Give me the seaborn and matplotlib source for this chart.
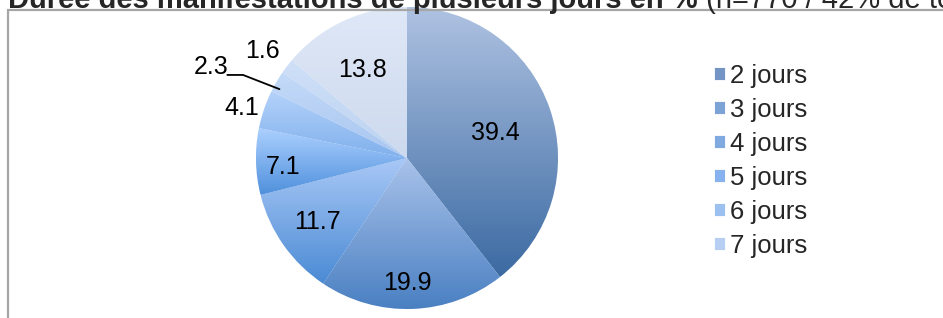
import numpy as np
import matplotlib
matplotlib.use("Agg")
import matplotlib.pyplot as plt
from matplotlib.colors import LinearSegmentedColormap
import seaborn as sns

# data
categories = ["2 jours", "3 jours", "4 jours", "5 jours", "6 jours", "7 jours", "8 jours", "9 jours et +"]
values = [39.4, 19.9, 11.7, 7.1, 4.1, 2.3, 1.6, 13.8]
value_labels = ["39.4", "19.9", "11.7", "7.1", "4.1", "2.3", "1.6", "13.8"]
slice_colors = ["#7394c4", "#7da3d6", "#80a9e0", "#86b3ef", "#9cc0f0", "#b6cff3", "#c4d7f3", "#d4e0f3"]
# light (top) / dark (bottom) ends of the Excel-style gradient fill
grad_top = ["#afc2e2", "#a9c2ea", "#a9c8f6", "#acd0ff", "#b4d2fa", "#c4daf8", "#cfe0f8", "#dfe8f7"]
grad_bottom = ["#3b6aa2", "#4a80c2", "#4a8ad4", "#4f90dc", "#80b0ec", "#a8c6f0", "#bcd2f0", "#cdd9ee"]
legend_count = 6  # only 6 entries fit in the original legend

title_main = "Durée des manifestations de plusieurs jours en %"
title_sub = " (n=770 / 42% de total)"

# layout of value labels: distance from centre (radii) and angle shift from slice middle (deg)
label_radius = [0.61, 0.83, 0.73, 0.82, 1.14, 1.43, 1.19, 0.65]
label_shift = [-3, -2, 0, 3, 2, 5.4, 1, 2]

sns.set_theme(style="white")
plt.rcParams["font.family"] = ["Liberation Sans", "DejaVu Sans"]

W, H = 943, 318
fig = plt.figure(figsize=(W / 100, H / 100), dpi=100)

# frame of the chart area (cropped on right and bottom)
frame = plt.Rectangle((8 / W, -0.1), 1.2, (H - 10) / H + 0.1, transform=fig.transFigure,
                      fill=False, edgecolor="#a6a6a6", linewidth=1.6)
fig.add_artist(frame)

# pie
cx, cy, r = 407, 158, 151
ax = fig.add_axes([(cx - r) / W, (H - cy - r) / H, 2 * r / W, 2 * r / H])
wedges, _ = ax.pie(values, colors=slice_colors, startangle=90, counterclock=False,
                   wedgeprops=dict(linewidth=0.6, edgecolor="white"))

# vertical gradient inside every slice
grad = np.linspace(0, 1, 256).reshape(-1, 1)
for w, c0, c1 in zip(wedges, grad_top, grad_bottom):
    bb = w.get_path().get_extents()
    cmap = LinearSegmentedColormap.from_list("g", [c0, c1])
    im = ax.imshow(grad, cmap=cmap, aspect="auto", origin="upper",
                   extent=[bb.x0, bb.x1, bb.y0, bb.y1], zorder=w.get_zorder() + 0.1)
    im.set_clip_path(w)
ax.set_xlim(-1, 1)
ax.set_ylim(-1, 1)
ax.set_aspect("equal")

for w, lab, d, s in zip(wedges, value_labels, label_radius, label_shift):
    ang = np.deg2rad((w.theta1 + w.theta2) / 2 + s)
    ax.text(d * np.cos(ang), d * np.sin(ang), lab, ha="center", va="center",
            fontsize=18, color="black", zorder=5)

# leader line for the small 2.3 slice
w = wedges[5]
ang = np.deg2rad((w.theta1 + w.theta2) / 2 + 2)
ex, ey = 0.96 * np.cos(ang), 0.96 * np.sin(ang)
ax.plot([ex, -1.086, -1.19], [ey, 0.55, 0.55], color="black", linewidth=1.3,
        clip_on=False, zorder=5)

# legend
leg = fig.legend(wedges[:legend_count], categories[:legend_count], loc="upper left",
                 bbox_to_anchor=(714 / W, 1 - 64 / H), frameon=False, fontsize=18.5,
                 handlelength=0.41, handleheight=0.41, handletextpad=0.2,
                 labelspacing=0.39, borderpad=0, borderaxespad=0)

# cropped title
t1 = fig.text(8 / W, 1 - 8.5 / H, title_main, fontsize=21, fontweight="bold",
              ha="left", va="baseline")
fig.canvas.draw()
x_end = t1.get_window_extent().x1
fig.text(x_end / W, 1 - 8.5 / H, title_sub, fontsize=21, ha="left", va="baseline")

fig.savefig("out.png", dpi=100)
